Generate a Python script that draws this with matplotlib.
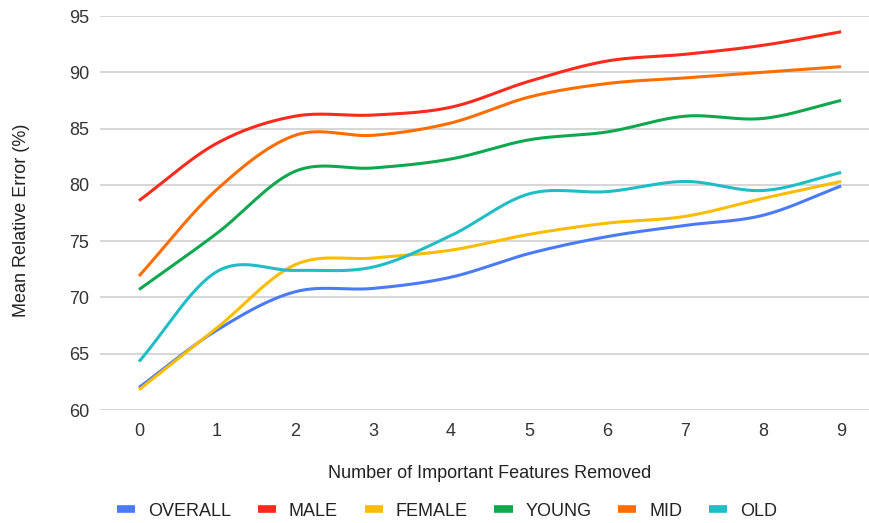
import numpy as np
import matplotlib
matplotlib.use('Agg')
import matplotlib.pyplot as plt
from matplotlib.lines import Line2D

plt.rcParams['font.family'] = ['Liberation Sans', 'DejaVu Sans']

# data
features_removed = [0, 1, 2, 3, 4, 5, 6, 7, 8, 9]
overall = [62.0, 67.1, 70.5, 70.8, 71.8, 73.9, 75.4, 76.4, 77.3, 79.9]
male = [78.6, 83.7, 86.1, 86.2, 86.9, 89.2, 91.0, 91.6, 92.4, 93.6]
female = [61.8, 67.3, 72.9, 73.5, 74.2, 75.6, 76.6, 77.2, 78.8, 80.3]
young = [70.7, 75.7, 81.2, 81.5, 82.3, 84.0, 84.7, 86.1, 85.9, 87.5]
mid = [71.9, 79.6, 84.4, 84.4, 85.5, 87.8, 89.0, 89.5, 90.0, 90.5]
old = [64.3, 72.3, 72.4, 72.7, 75.5, 79.2, 79.4, 80.3, 79.5, 81.1]

names = ['OVERALL', 'MALE', 'FEMALE', 'YOUNG', 'MID', 'OLD']
series = [overall, male, female, young, mid, old]
colors = ['#4a7bf5', '#fa2a1c', '#fbbc04', '#0fa84e', '#ff6d01', '#1fbdc6']


# smooth curve through the points (cardinal spline, like "smooth" in Sheets)
def smooth(x, y, n=30, tension=0.5):
    x = np.asarray(x, float)
    y = np.asarray(y, float)
    px = np.concatenate([[2 * x[0] - x[1]], x, [2 * x[-1] - x[-2]]])
    py = np.concatenate([[2 * y[0] - y[1]], y, [2 * y[-1] - y[-2]]])
    xs, ys = [], []
    for i in range(1, len(px) - 2):
        t = np.linspace(0, 1, n, endpoint=False)
        mx0 = tension * (px[i + 1] - px[i - 1])
        mx1 = tension * (px[i + 2] - px[i])
        my0 = tension * (py[i + 1] - py[i - 1])
        my1 = tension * (py[i + 2] - py[i])
        h00 = 2 * t**3 - 3 * t**2 + 1
        h10 = t**3 - 2 * t**2 + t
        h01 = -2 * t**3 + 3 * t**2
        h11 = t**3 - t**2
        xs.append(h00 * px[i] + h10 * mx0 + h01 * px[i + 1] + h11 * mx1)
        ys.append(h00 * py[i] + h10 * my0 + h01 * py[i + 1] + h11 * my1)
    xs.append([x[-1]])
    ys.append([y[-1]])
    return np.concatenate(xs), np.concatenate(ys)


fig = plt.figure(figsize=(8.7, 5.23), dpi=100)
ax = fig.add_axes([100 / 870, 113 / 523, 1 - 100 / 870, 394 / 523])

for vals, c in zip(series, colors):
    sx, sy = smooth(features_removed, vals)
    ax.plot(sx, sy, color=c, lw=2.2, solid_capstyle='butt', zorder=3)

ax.set_xlim(-0.5, 9.37)
ax.set_ylim(60, 95)
ax.set_yticks(range(60, 96, 5))
ax.set_xticks(features_removed)
ax.grid(axis='y', color='#d0d0d0', lw=1.2)
ax.set_axisbelow(True)
for s in ax.spines.values():
    s.set_visible(False)
ax.tick_params(length=0, labelsize=13, colors='#333333', pad=8)
ax.tick_params(axis='x', pad=9)

fig.text(22 / 870, 1 - 220 / 523, 'Mean Relative Error (%)', rotation=90,
         ha='center', va='center', fontsize=13, color='#222222')
fig.text(490 / 870, 1 - 473 / 523, 'Number of Important Features Removed',
         ha='center', va='center', fontsize=13, color='#222222')

handles = [Line2D([0], [0], color=c, lw=5.5, solid_capstyle='butt') for c in colors]
fig.legend(handles, names, loc='center', bbox_to_anchor=(447 / 870, 1 - 511 / 523),
           ncol=6, frameon=False, fontsize=13, handlelength=1.0,
           handletextpad=0.7, columnspacing=1.5, labelcolor='#222222')

fig.savefig('out.png', dpi=100)
